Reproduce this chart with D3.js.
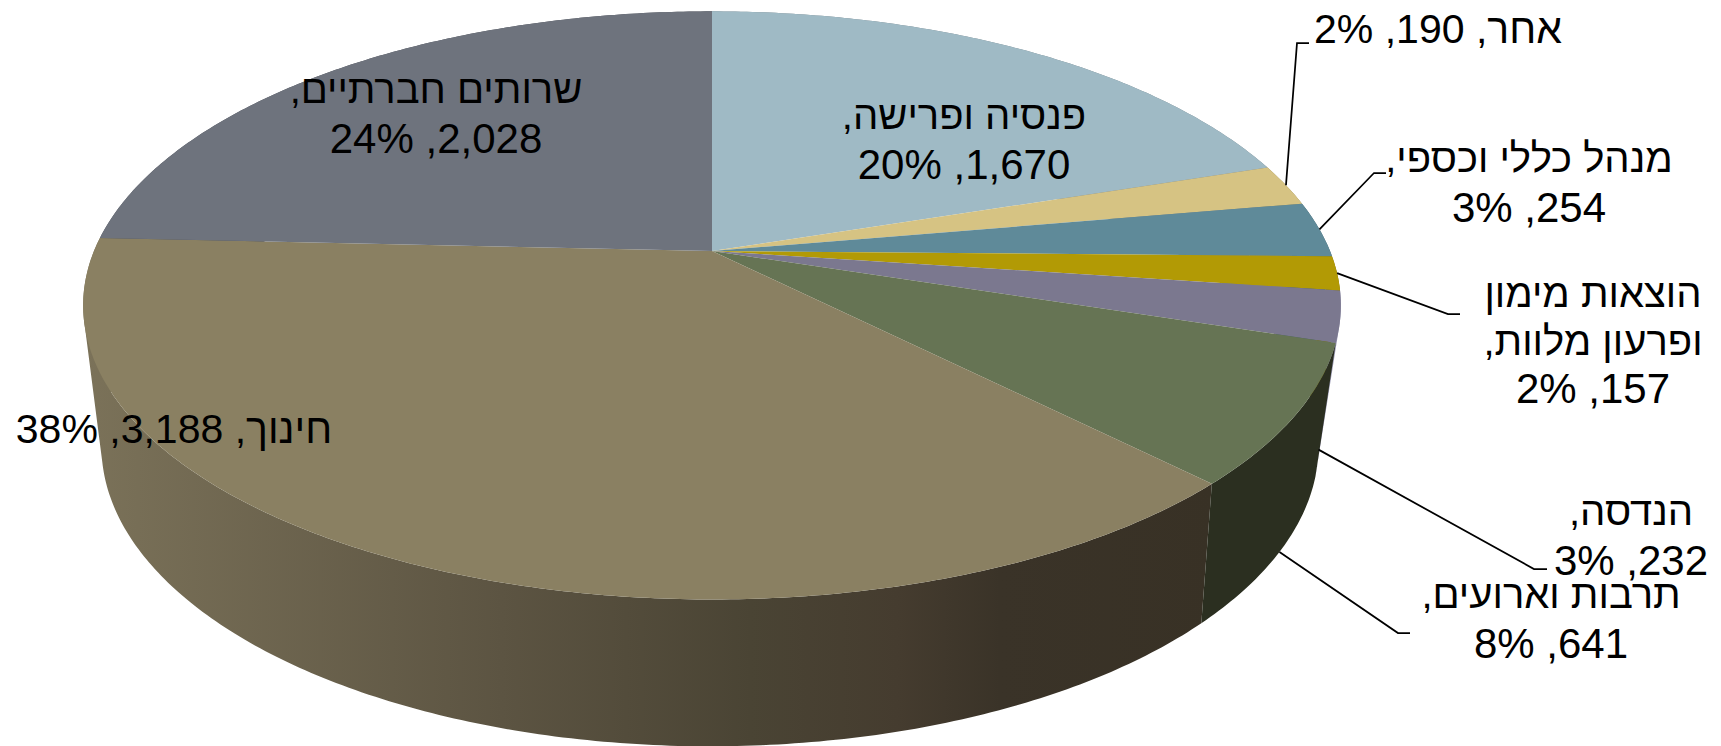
<!DOCTYPE html>
<html>
<head>
<meta charset="utf-8">
<style>
  html, body { margin: 0; padding: 0; background: #fff; overflow: hidden; }
  text { font-family: "Liberation Sans", Arial, sans-serif; font-size: 40px; fill: #000; direction: rtl; text-anchor: middle; }
</style>
</head>
<body>
<script src="https://d3js.org/d3.v7.min.js"></script>
<script>
  var width = 1721, height = 746;

  var categories = ["פנסיה ופרישה", "אחר", "מנהל כללי וכספי", "הוצאות מימון ופרעון מלוות", "הנדסה", "תרבות וארועים", "חינוך", "שרותים חברתיים"];
  var values = [1670, 190, 254, 157, 232, 641, 3188, 2028];
  var percents = ["20%", "2%", "3%", "2%", "3%", "8%", "38%", "24%"];

  var topColors = ["#9fbac5", "#d6c383", "#5f8a99", "#b29a05", "#7b788f", "#667454", "#8a8062", "#6e737d"];
  var sideColors = ["#77838a", "#968a5c", "#43616b", "#7d6c03", "#9a99b4", "#2b2f20", "url(#sideTan)", "#4e5159"];

  // label lines (already wrapped), centre x / first baseline
  var labelLayout = [
    { lines: ["פנסיה ופרישה,", "1,670, 20%"], x: 964, y: 129, lh: 50 },
    { lines: ["אחר, 190, 2%"], x: 1438, y: 43, lh: 50 },
    { lines: ["מנהל כללי וכספי,", "254, 3%"], x: 1529, y: 172, lh: 50 },
    { lines: ["הוצאות מימון", "ופרעון מלוות,", "157, 2%"], x: 1593, y: 307, lh: 48 },
    { lines: ["הנדסה,", "232, 3%"], x: 1631, y: 525, lh: 50 },
    { lines: ["תרבות וארועים,", "641, 8%"], x: 1551, y: 608, lh: 50 },
    { lines: ["חינוך, 3,188, 38%"], x: 174, y: 443, lh: 50 },
    { lines: ["שרותים חברתיים,", "2,028, 24%"], x: 436, y: 103, lh: 50 }
  ];

  // leader elbows; t = how far down the side wall the line starts
  var leaders = [
    { i: 1, elbow: [1297, 43], end: 1309, t: 0 },
    { i: 2, elbow: [1374, 173], end: 1386, t: 0 },
    { i: 3, elbow: [1448, 314], end: 1460, t: 0 },
    { i: 4, elbow: [1534, 569], end: 1547, t: 1 },
    { i: 5, elbow: [1398, 633], end: 1410, t: 1 }
  ];

  var svg = d3.select("body").append("svg")
    .attr("width", width)
    .attr("height", height);

  var grad = svg.append("defs").append("linearGradient")
    .attr("id", "sideTan")
    .attr("gradientUnits", "userSpaceOnUse")
    .attr("x1", 83).attr("x2", 1215).attr("y1", 0).attr("y2", 0);
  [[0, "#7b7259"], [0.37, "#5c5442"], [0.59, "#4a4434"], [0.72, "#453c2f"], [0.81, "#3a3328"], [1, "#383125"]].forEach(function (s) {
    grad.append("stop").attr("offset", s[0]).attr("stop-color", s[1]);
  });

  // the disc is a circle seen in perspective: centre is not the ellipse centre
  var topRim = { cx: 712, cy: 251, R: 618, S: 284, k: 0.185 };
  var botRim = { cx: 710, cy: 383, R: 595, S: 287, k: 0.21 };

  function project(rim, a) {
    var u = Math.sin(a), v = -Math.cos(a), w = 1 - rim.k * v;
    return [rim.cx + rim.R * u / w, rim.cy + rim.S * v / w];
  }

  var slices = d3.pie().sort(null).value(function (d) { return d; })(values);

  function arcPoints(rim, a0, a1) {
    return d3.range(0, 1.0001, 1 / Math.max(2, Math.ceil((a1 - a0) * 90)))
      .map(function (t) { return project(rim, a0 + (a1 - a0) * t); });
  }

  var line = d3.line();

  // side wall as thin quads so the silhouette stays filled, back slices first.
  // quads past the silhouette fold over, keep one winding or they cancel out
  var order = [0, 7, 1, 2, 3, 6, 4, 5];

  svg.append("g").selectAll("path")
    .data(order)
    .enter().append("path")
    .attr("fill", function (i) { return sideColors[i]; })
    .attr("d", function (i) {
      var s = slices[i];
      var a = arcPoints(topRim, s.startAngle, s.endAngle);
      var b = arcPoints(botRim, s.startAngle, s.endAngle);
      return d3.range(a.length - 1).map(function (j) {
        var quad = [a[j], a[j + 1], b[j + 1], b[j]];
        if (d3.polygonArea(quad) < 0) quad.reverse();
        return line(quad) + "Z";
      }).join("");
    });

  // top face
  svg.append("g").selectAll("path")
    .data(slices)
    .enter().append("path")
    .attr("fill", function (d, i) { return topColors[i]; })
    .attr("d", function (d) {
      return line([[topRim.cx, topRim.cy]].concat(arcPoints(topRim, d.startAngle, d.endAngle))) + "Z";
    });

  // leader lines
  svg.append("g").selectAll("path")
    .data(leaders)
    .enter().append("path")
    .attr("fill", "none")
    .attr("stroke", "#000")
    .attr("stroke-width", 1.75)
    .attr("d", function (d) {
      var s = slices[d.i], a = (s.startAngle + s.endAngle) / 2;
      var p0 = project(topRim, a), p1 = project(botRim, a);
      var start = [p0[0] + (p1[0] - p0[0]) * d.t, p0[1] + (p1[1] - p0[1]) * d.t];
      return line([start, d.elbow, [d.end, d.elbow[1]]]);
    });

  // labels; digits run a little wider in the original than the hebrew does
  function lineSize(t) {
    if (!/\d/.test(t)) return 40;
    return /[\u0590-\u05ff]/.test(t) ? 41 : 42;
  }

  var labels = svg.append("g").selectAll("text")
    .data(labelLayout)
    .enter().append("text")
    .attr("transform", function (d) { return "translate(" + d.x + "," + d.y + ")"; });

  labels.selectAll("tspan")
    .data(function (d) { return d.lines.map(function (t) { return { t: t, lh: d.lh }; }); })
    .enter().append("tspan")
    .attr("x", 0)
    .attr("y", function (d, i) { return i * d.lh; })
    .style("font-size", function (d) { return lineSize(d.t) + "px"; })
    .text(function (d) { return d.t; });
</script>
</body>
</html>
